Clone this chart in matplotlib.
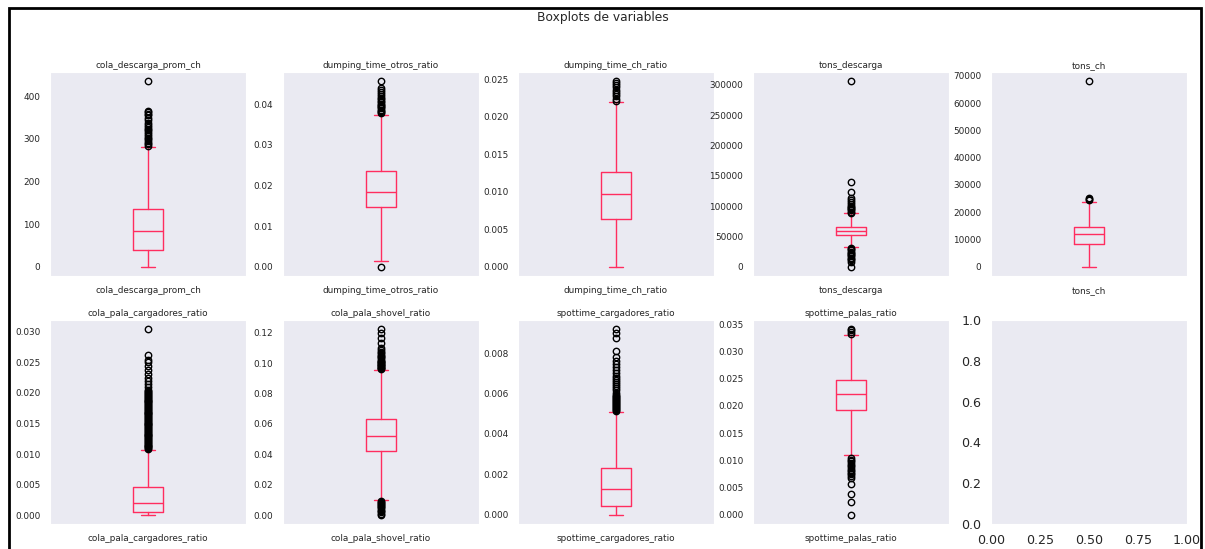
import numpy as np
import matplotlib.pyplot as plt
import seaborn as sns
from matplotlib.patches import Rectangle

sns.set_style("dark")

# resumen de cada variable: cuartiles, bigotes y atipicos
columnas = ["cola_descarga_prom_ch", "dumping_time_otros_ratio", "dumping_time_ch_ratio",
            "tons_descarga", "tons_ch", "cola_pala_cargadores_ratio", "cola_pala_shovel_ratio",
            "spottime_cargadores_ratio", "spottime_palas_ratio"]
q1 = [39, 0.0146, 0.00633, 52900, 8500, 0.0005, 0.042, 0.00044, 0.01923]
medianas = [83, 0.0184, 0.00963, 59400, 12100, 0.00195, 0.052, 0.00126, 0.02214]
q3 = [135, 0.0237, 0.01262, 65500, 14700, 0.00455, 0.0633, 0.0023, 0.0247]
bigote_inf = [0, 0.0014, 0.0, 32200, 0, 0.0001, 0.010, 0.0, 0.0109]
bigote_sup = [280, 0.0375, 0.02199, 88400, 23800, 0.01067, 0.0955, 0.0051, 0.0331]

at_cola_descarga = [283, 287, 291, 295, 299, 303, 307, 311, 315, 320, 324, 328, 333, 338,
                    343, 350, 355, 358, 362, 365, 435]
at_dumping_otros = [0.0, 0.0378, 0.0381, 0.0384, 0.0387, 0.0390, 0.0393, 0.0396, 0.0399,
                    0.0402, 0.0405, 0.0409, 0.0413, 0.0417, 0.0421, 0.0425, 0.0430, 0.0435,
                    0.0440, 0.0457]
at_dumping_ch = [0.0221, 0.0224, 0.0227, 0.0230, 0.0233, 0.0236, 0.0239, 0.0242, 0.0245, 0.0247]
at_tons_descarga = [0, 8000, 11000, 13000, 15000, 17000, 19000, 21000, 23000, 25000, 27000,
                    29000, 31000, 89000, 91000, 93000, 95000, 97000, 99000, 101000, 103000,
                    106000, 110000, 114000, 123000, 140000, 306000]
at_tons_ch = [24300, 24700, 25100, 68000]
at_cola_cargadores = [0.01080, 0.01095, 0.01110, 0.01125, 0.01140, 0.01155, 0.01170, 0.01185,
                      0.01200, 0.01215, 0.01230, 0.01245, 0.01260, 0.01275, 0.01290, 0.01305,
                      0.01320, 0.01335, 0.01350, 0.01365, 0.01380, 0.01395, 0.01410, 0.01425,
                      0.01440, 0.01455, 0.01470, 0.01485, 0.01500, 0.01515, 0.01530, 0.01545,
                      0.01560, 0.01575, 0.01590, 0.01605, 0.01620, 0.01635, 0.01650, 0.01665,
                      0.01680, 0.01695, 0.01710, 0.01725, 0.01740, 0.01755, 0.01770, 0.01785,
                      0.01800, 0.01815, 0.01830, 0.01845, 0.01860, 0.01875, 0.01890, 0.01905,
                      0.01920, 0.01935, 0.01950, 0.01965, 0.01980, 0.01995, 0.02010, 0.02025,
                      0.02040, 0.0209, 0.0215, 0.0220, 0.0225, 0.0231, 0.0237, 0.0244, 0.0250,
                      0.0254, 0.0262, 0.0304]
at_cola_shovel = [0.0003, 0.0010, 0.0020, 0.0028, 0.0036, 0.0044, 0.0052, 0.0060, 0.0067,
                  0.0074, 0.0081, 0.0088, 0.0095, 0.0962, 0.0966, 0.0970, 0.0975, 0.0980,
                  0.0985, 0.0990, 0.0995, 0.1000, 0.1005, 0.1010, 0.1016, 0.1022, 0.1030,
                  0.1038, 0.1046, 0.1055, 0.1065, 0.1075, 0.1085, 0.1100, 0.1135, 0.1165,
                  0.1195, 0.1222]
at_spot_cargadores = [0.00515, 0.00520, 0.00525, 0.00530, 0.00535, 0.00540, 0.00545, 0.00550,
                      0.00555, 0.00560, 0.00565, 0.00570, 0.00575, 0.00580, 0.00585, 0.00590,
                      0.00595, 0.00605, 0.00615, 0.00625, 0.00635, 0.00645, 0.00655, 0.00665,
                      0.00675, 0.00685, 0.00700, 0.00715, 0.00730, 0.00745, 0.00760, 0.00780,
                      0.00812, 0.00875, 0.00900, 0.00918]
at_spot_palas = [0.0, 0.0024, 0.0038, 0.0056, 0.0068, 0.0071, 0.0074, 0.0077, 0.0080, 0.0083,
                 0.0086, 0.0089, 0.0092, 0.0095, 0.0098, 0.0101, 0.0104, 0.0333, 0.0336,
                 0.0339, 0.0341]
atipicos = [at_cola_descarga, at_dumping_otros, at_dumping_ch, at_tons_descarga, at_tons_ch,
            at_cola_cargadores, at_cola_shovel, at_spot_cargadores, at_spot_palas]

W, H = 1205, 549
rojo = "#ff2d5f"
linea = dict(color=rojo, linewidth=1)

fig = plt.figure(figsize=(W / 100, H / 100), dpi=100)

# posicion de cada panel en pixeles
izq = [50, 283, 518, 753, 991]
arriba = [72, 320]
ancho, alto = 196, 204

for i, col in enumerate(columnas):
    fila, c = divmod(i, 5)
    ax = fig.add_axes([izq[c] / W, 1 - (arriba[fila] + alto) / H, ancho / W, alto / H])
    stats = dict(med=medianas[i], q1=q1[i], q3=q3[i], whislo=bigote_inf[i],
                 whishi=bigote_sup[i], fliers=np.array(atipicos[i]), label=col)
    ax.bxp([stats], positions=[1], widths=0.15, boxprops=linea, whiskerprops=linea,
           capprops=linea, medianprops=linea,
           flierprops=dict(marker="o", markerfacecolor="none", markeredgecolor="black",
                           markersize=4.6, markeredgewidth=1.0))
    ax.set_xlim(0.5, 1.5)
    ax.set_title(col, fontsize=6.4, pad=3, color=".15")
    ax.tick_params(labelsize=6.4, colors=".15")

# panel vacio sobrante
ax = fig.add_axes([izq[4] / W, 1 - (arriba[1] + alto) / H, ancho / W, alto / H])
ax.set_xticks([0, 0.25, 0.5, 0.75, 1])
ax.tick_params(labelsize=9.1, colors=".15")

fig.suptitle("Boxplots de variables", y=1 - 18 / H, va="center", fontsize=8.8, color=".15")

# marco negro
fig.patches.append(Rectangle((8.5 / W, -0.1), (1201 - 8.5) / W, 1.1 - 7.8 / H,
                             transform=fig.transFigure, fill=False, edgecolor="black",
                             linewidth=2))

fig.savefig("out.png", dpi=100)
